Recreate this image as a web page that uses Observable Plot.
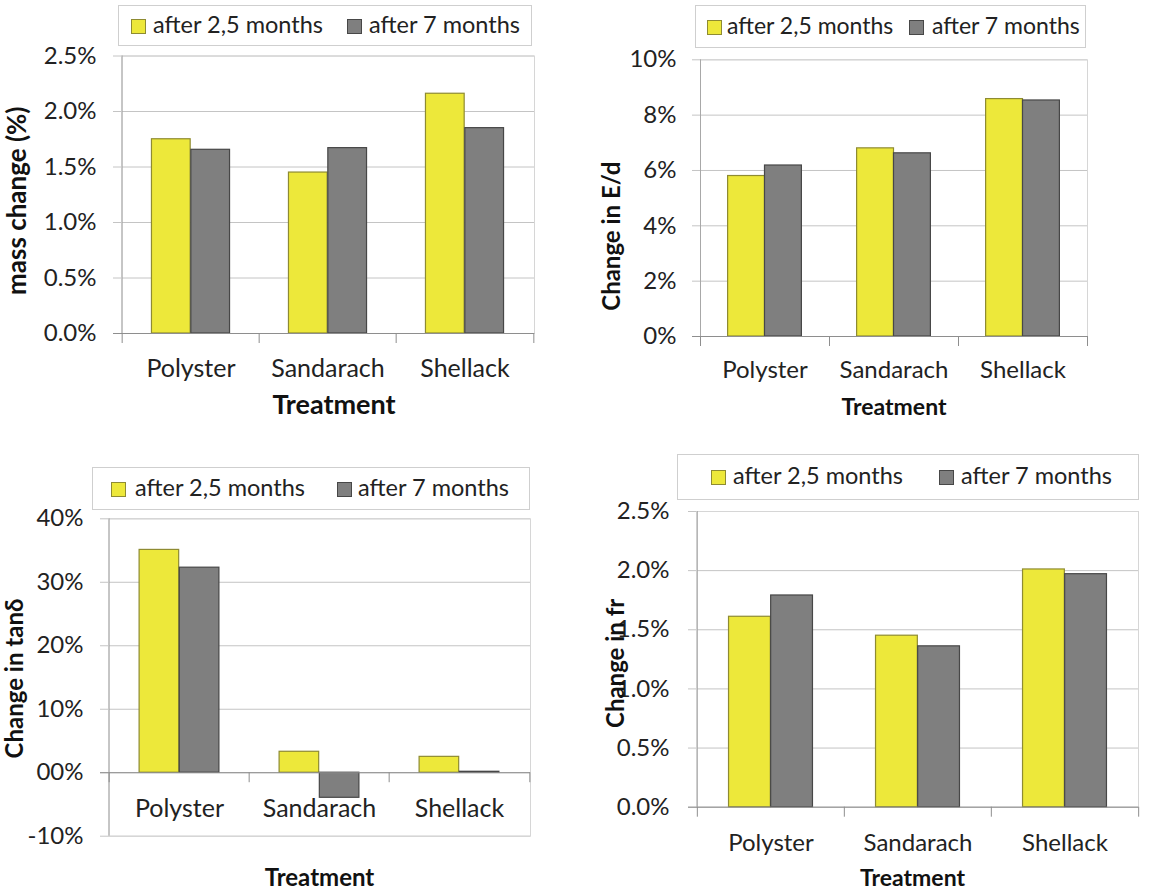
<!DOCTYPE html>
<html>
<head>
<meta charset="utf-8">
<script src="https://cdn.jsdelivr.net/npm/d3@7"></script>
<script src="https://cdn.jsdelivr.net/npm/@observablehq/plot@0.6"></script>
<style>
  html, body { margin: 0; padding: 0; background: #fff; }
  #root { position: relative; width: 1165px; height: 893px; background: #fff; overflow: hidden; font-family: Lato, "Open Sans", sans-serif; }
  .panel { position: absolute; }
  .legend { position: absolute; border: 1px solid #cfcfcf; background: #fff; box-sizing: border-box; }
  .legend .sw { position: absolute; width: 15px; height: 15px; box-sizing: border-box; }
  .legend .lt { position: absolute; color: #222; white-space: nowrap; line-height: 1; }
</style>
</head>
<body>
<div id="root"></div>
<script>
// ---------- data ----------
const categories = ["Polyster", "Sandarach", "Shellack"];
const seriesLabels = ["after 2,5 months", "after 7 months"];
const xTitle = "Treatment";

const massAfter25 = [1.75, 1.45, 2.16];
const massAfter7 = [1.655, 1.67, 1.85];
const massTicks = [0, 0.5, 1.0, 1.5, 2.0, 2.5];
const massTickLabels = ["0.0%", "0.5%", "1.0%", "1.5%", "2.0%", "2.5%"];
const massYLabel = "mass change (%)";

const edAfter25 = [5.8, 6.8, 8.58];
const edAfter7 = [6.18, 6.62, 8.53];
const edTicks = [0, 2, 4, 6, 8, 10];
const edTickLabels = ["0%", "2%", "4%", "6%", "8%", "10%"];
const edYLabel = "Change in E/d";

const tanAfter25 = [35.1, 3.3, 2.5];
const tanAfter7 = [32.3, -3.95, 0.15];
const tanTicks = [-10, 0, 10, 20, 30, 40];
const tanTickLabels = ["-10%", "00%", "10%", "20%", "30%", "40%"];
const tanYLabel = "Change in tanδ";

const frAfter25 = [1.61, 1.45, 2.01];
const frAfter7 = [1.79, 1.36, 1.97];
const frTicks = [0, 0.5, 1.0, 1.5, 2.0, 2.5];
const frTickLabels = ["0.0%", "0.5%", "1.0%", "1.5%", "2.0%", "2.5%"];
const frYLabel = "Change in fr";

// ---------- styles ----------
const yellowFill = "#EDE83A", yellowStroke = "#8E8B32";
const grayFill = "#7F7F7F", grayStroke = "#474747";
const gridColor = "#c4c4c4", frameColor = "#d6d6d6", axisColor = "#8e8e8e";

const root = document.getElementById("root");

function panel(cfg) {
  const {left, top, width, height, ml, mr, mt, mb, a, b, ticks, tickLabels, domain, yLabel,
         tickPad, catDy, catSize, titleDy, titleDx, titleSize, yLabDx, yLabDy, yLabSize, legend} = cfg;
  const bw = (width - ml - mr) / categories.length;
  const rowsA = categories.map((c, i) => ({cat: c, v: a[i]}));
  const rowsB = categories.map((c, i) => ({cat: c, v: b[i]}));
  const labelMap = new Map(ticks.map((t, i) => [t, tickLabels[i]]));
  const svg = Plot.plot({
    width, height,
    marginLeft: ml, marginRight: mr, marginTop: mt, marginBottom: mb,
    style: {fontFamily: "Lato, 'Open Sans', sans-serif", fontSize: "24px", color: "#222", background: "transparent", overflow: "visible"},
    x: {type: "band", domain: categories, padding: 0, axis: null},
    y: {domain, label: null, axis: null},
    marks: [
      Plot.ruleY(ticks, {stroke: gridColor, insetLeft: -8}),
      Plot.frame({stroke: frameColor}),
      Plot.ruleX([categories[0]], {stroke: "#a8a8a8", dx: -bw / 2}),
      Plot.barY(rowsA, {x: "cat", y1: () => 0, y2: "v", fill: yellowFill, stroke: yellowStroke, strokeWidth: 1.2,
        insetLeft: 0.214 * bw, insetRight: 0.5 * bw}),
      Plot.barY(rowsB, {x: "cat", y1: () => 0, y2: "v", fill: grayFill, stroke: grayStroke, strokeWidth: 1.2,
        insetLeft: 0.5 * bw, insetRight: 0.214 * bw}),
      Plot.ruleY([0], {stroke: axisColor, insetLeft: -8}),
      Plot.ruleX(categories, {x: d => d, y1: () => 0, y2: () => 0, insetBottom: -10, dx: -bw / 2, stroke: axisColor}),
      Plot.ruleX([categories[categories.length - 1]], {x: d => d, y1: () => 0, y2: () => 0, insetBottom: -10, dx: bw / 2, stroke: axisColor}),
      Plot.axisY({ticks, tickSize: 0, tickPadding: tickPad, tickFormat: d => labelMap.get(d), label: null, fill: "#222", fontSize: 24}),
      Plot.text(categories, {x: d => d, y: () => 0, dy: catDy, fill: "#222", fontSize: catSize, textAnchor: "middle"}),
      Plot.text([xTitle], {frameAnchor: "bottom", lineAnchor: "middle", textAnchor: "middle", dy: titleDy, dx: titleDx, fontWeight: "bold", fontSize: titleSize, fill: "#111"}),
      Plot.text([yLabel], {frameAnchor: "left", lineAnchor: "middle", textAnchor: "middle", rotate: -90, dx: yLabDx, dy: yLabDy, fontWeight: "bold", fontSize: yLabSize, fill: "#111"})
    ]
  });
  const wrap = document.createElement("div");
  wrap.className = "panel";
  wrap.style.left = left + "px";
  wrap.style.top = top + "px";
  wrap.appendChild(svg);
  root.appendChild(wrap);

  // legend
  const lg = document.createElement("div");
  lg.className = "legend";
  lg.style.left = legend.x + "px";
  lg.style.top = legend.y + "px";
  lg.style.width = legend.w + "px";
  lg.style.height = legend.h + "px";
  const cy = legend.h / 2;
  const items = [
    {sx: legend.s1, tx: legend.t1, fill: yellowFill, stroke: yellowStroke, text: seriesLabels[0]},
    {sx: legend.s2, tx: legend.t2, fill: grayFill, stroke: grayStroke, text: seriesLabels[1]}
  ];
  for (const it of items) {
    const sw = document.createElement("div");
    sw.className = "sw";
    sw.style.left = (it.sx - legend.x) + "px";
    sw.style.top = (cy - 8) + "px";
    sw.style.background = it.fill;
    sw.style.border = "1px solid " + it.stroke;
    lg.appendChild(sw);
    const t = document.createElement("div");
    t.className = "lt";
    t.style.fontSize = legend.fs + "px";
    t.style.left = (it.tx - legend.x) + "px";
    t.style.top = (cy - legend.fs * 0.58) + "px";
    t.textContent = it.text;
    lg.appendChild(t);
  }
  root.appendChild(lg);
}

panel({left: 0, top: 0, width: 580, height: 440, ml: 121, mr: 46, mt: 55.5, mb: 107,
  a: massAfter25, b: massAfter7, ticks: massTicks, tickLabels: massTickLabels, domain: [0, 2.5], yLabel: massYLabel,
  tickPad: 25, catDy: 35, catSize: 25, titleDy: 72, titleDx: 6, titleSize: 27, yLabDx: -104, yLabDy: 6, yLabSize: 26,
  legend: {x: 118, y: 5, w: 414, h: 41, fs: 23.5, s1: 130, t1: 152, s2: 346, t2: 368}});

panel({left: 580, top: 0, width: 585, height: 440, ml: 120, mr: 78, mt: 59.3, mb: 104,
  a: edAfter25, b: edAfter7, ticks: edTicks, tickLabels: edTickLabels, domain: [0, 10], yLabel: edYLabel,
  tickPad: 24, catDy: 34, catSize: 24, titleDy: 71, titleDx: 0, titleSize: 23, yLabDx: -88, yLabDy: 38, yLabSize: 24,
  legend: {x: 695, y: 5, w: 391, h: 43, fs: 23, s1: 706, t1: 726, s2: 908, t2: 931}});

panel({left: 0, top: 450, width: 580, height: 443, ml: 108, mr: 50, mt: 68.3, mb: 57.3,
  a: tanAfter25, b: tanAfter7, ticks: tanTicks, tickLabels: tanTickLabels, domain: [-10, 40], yLabel: tanYLabel,
  tickPad: 25, catDy: 36, catSize: 25, titleDy: 42, titleDx: 0, titleSize: 24, yLabDx: -93, yLabDy: 1, yLabSize: 24,
  legend: {x: 92, y: 467, w: 438, h: 43, fs: 23.5, s1: 110, t1: 134, s2: 336, t2: 357}});

panel({left: 580, top: 450, width: 585, height: 443, ml: 116, mr: 27, mt: 61, mb: 86.3,
  a: frAfter25, b: frAfter7, ticks: frTicks, tickLabels: frTickLabels, domain: [0, 2.5], yLabel: frYLabel,
  tickPad: 27, catDy: 36, catSize: 24, titleDy: 71, titleDx: -5, titleSize: 23, yLabDx: -80, yLabDy: 4, yLabSize: 24,
  legend: {x: 677, y: 454, w: 462, h: 46, fs: 23.5, s1: 710, t1: 732, s2: 938, t2: 960}});
</script>
</body>
</html>
